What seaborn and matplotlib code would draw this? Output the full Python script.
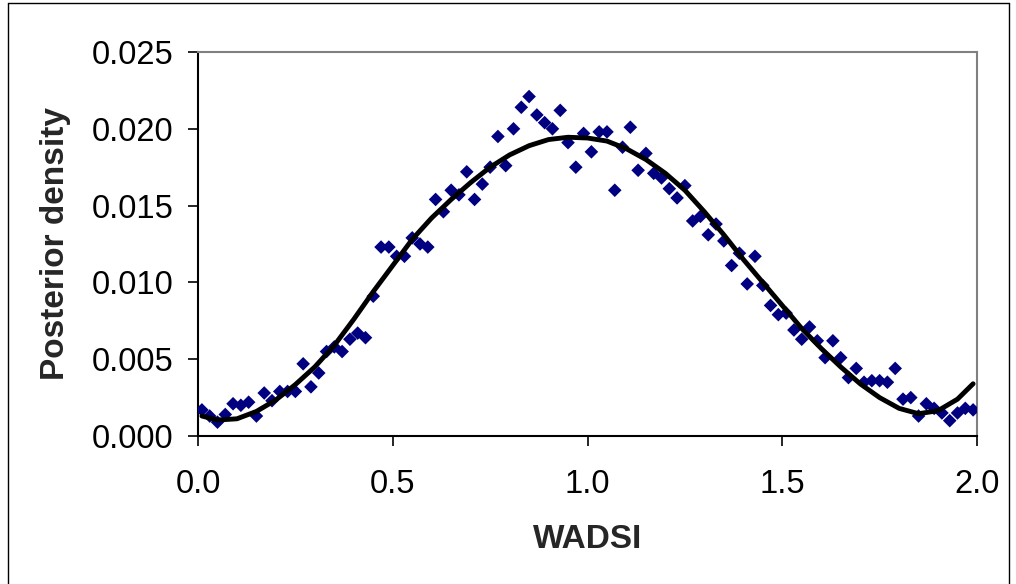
import numpy as np
import pandas as pd
import matplotlib
matplotlib.use("Agg")
import matplotlib.pyplot as plt
from matplotlib.lines import Line2D
import seaborn as sns

# WADSI values (x) and posterior density (y) of the points
wadsi = [0.01, 0.03, 0.05, 0.07, 0.09, 0.11, 0.13, 0.15, 0.17, 0.19,
         0.21, 0.23, 0.25, 0.27, 0.29, 0.31, 0.33, 0.35, 0.37, 0.39,
         0.41, 0.43, 0.45, 0.47, 0.49, 0.51, 0.53, 0.55, 0.57, 0.59,
         0.61, 0.63, 0.65, 0.67, 0.69, 0.71, 0.73, 0.75, 0.77, 0.79,
         0.81, 0.83, 0.85, 0.87, 0.89, 0.91, 0.93, 0.95, 0.97, 0.99,
         1.01, 1.03, 1.05, 1.07, 1.09, 1.11, 1.13, 1.15, 1.17, 1.19,
         1.21, 1.23, 1.25, 1.27, 1.29, 1.31, 1.33, 1.35, 1.37, 1.39,
         1.41, 1.43, 1.45, 1.47, 1.49, 1.51, 1.53, 1.55, 1.57, 1.59,
         1.61, 1.63, 1.65, 1.67, 1.69, 1.71, 1.73, 1.75, 1.77, 1.79,
         1.81, 1.83, 1.85, 1.87, 1.89, 1.91, 1.93, 1.95, 1.97, 1.99]
density = [0.0017, 0.0013, 0.0009, 0.0014, 0.0021, 0.0020, 0.0022, 0.0013, 0.0028, 0.0023,
           0.0029, 0.0029, 0.0029, 0.0047, 0.0032, 0.0041, 0.0055, 0.0058, 0.0055, 0.0063,
           0.0067, 0.0064, 0.0091, 0.0123, 0.0123, 0.0117, 0.0117, 0.0129, 0.0125, 0.0123,
           0.0154, 0.0146, 0.0160, 0.0157, 0.0172, 0.0154, 0.0164, 0.0175, 0.0195, 0.0176,
           0.0200, 0.0214, 0.0221, 0.0209, 0.0204, 0.0200, 0.0212, 0.0191, 0.0175, 0.0197,
           0.0185, 0.0198, 0.0198, 0.0160, 0.0188, 0.0201, 0.0173, 0.0184, 0.0171, 0.0168,
           0.0161, 0.0155, 0.0163, 0.0140, 0.0143, 0.0131, 0.0138, 0.0127, 0.0111, 0.0119,
           0.0099, 0.0117, 0.0098, 0.0085, 0.0079, 0.0080, 0.0069, 0.0063, 0.0071, 0.0062,
           0.0051, 0.0062, 0.0051, 0.0038, 0.0044, 0.0035, 0.0036, 0.0036, 0.0035, 0.0044,
           0.0024, 0.0025, 0.0013, 0.0021, 0.0018, 0.0015, 0.0010, 0.0015, 0.0018, 0.0017]

# smooth fitted curve
curve_x = [0.01, 0.05, 0.10, 0.15, 0.20, 0.25, 0.30, 0.35, 0.40, 0.45,
           0.50, 0.55, 0.60, 0.65, 0.70, 0.75, 0.80, 0.85, 0.90, 0.95,
           1.00, 1.05, 1.10, 1.15, 1.20, 1.25, 1.30, 1.35, 1.40, 1.45,
           1.50, 1.55, 1.60, 1.65, 1.70, 1.75, 1.80, 1.85, 1.90, 1.95, 1.99]
curve_y = [0.00130, 0.00104, 0.00112, 0.00160, 0.00235, 0.00335, 0.00450, 0.00590, 0.00760, 0.00940,
           0.01110, 0.01280, 0.01420, 0.01540, 0.01650, 0.01750, 0.01830, 0.01890, 0.01930, 0.01945,
           0.01940, 0.01920, 0.01870, 0.01800, 0.01710, 0.01600, 0.01460, 0.01310, 0.01150, 0.01000,
           0.00850, 0.00700, 0.00570, 0.00450, 0.00340, 0.00250, 0.00180, 0.00145, 0.00165, 0.00240, 0.00340]

x_ticks = [0.0, 0.5, 1.0, 1.5, 2.0]
x_ticklabels = ["0.0", "0.5", "1.0", "1.5", "2.0"]
y_ticks = [0.0, 0.005, 0.010, 0.015, 0.020, 0.025]
y_ticklabels = ["0.000", "0.005", "0.010", "0.015", "0.020", "0.025"]
x_label = "WADSI"
y_label = "Posterior density"

df = pd.DataFrame({"WADSI": wadsi, "density": density})
curve = pd.DataFrame({"WADSI": curve_x, "density": curve_y})

sns.set_style("white")
plt.rcParams["font.family"] = ["Liberation Sans", "DejaVu Sans"]

W, H = 1016, 584
fig = plt.figure(figsize=(W / 100, H / 100), dpi=100)
ax = fig.add_axes([198 / W, 1 - 436 / H, (977 - 198) / W, (436 - 52) / H])

sns.scatterplot(data=df, x="WADSI", y="density", marker="D", s=48,
                color="#000080", edgecolor="none", linewidth=0, ax=ax, zorder=3)
sns.lineplot(data=curve, x="WADSI", y="density", color="black", linewidth=3.5,
             ax=ax, zorder=4, estimator=None)
for ln in ax.get_lines():
    ln.set_solid_joinstyle("round")
    ln.set_solid_capstyle("round")

ax.set_xlim(0, 2.0)
ax.set_ylim(0, 0.025)
ax.set_xticks(x_ticks)
ax.set_xticklabels(x_ticklabels)
ax.set_yticks(y_ticks)
ax.set_yticklabels(y_ticklabels)
ax.tick_params(axis="both", which="major", direction="out", length=7.5, width=1.2,
               color="black", labelsize=23.5, labelcolor="black", bottom=True, left=True)
ax.tick_params(axis="x", pad=16)
ax.tick_params(axis="y", pad=10)

ax.set_xlabel(x_label, fontsize=24, fontweight="bold")
ax.set_ylabel(y_label, fontsize=24, fontweight="bold")
ax.xaxis.set_label_coords(0.5, -0.23)
ax.yaxis.set_label_coords(-0.163, 0.5)

for side in ["left", "bottom"]:
    ax.spines[side].set_color("black")
    ax.spines[side].set_linewidth(1.5)
for side in ["top", "right"]:
    ax.spines[side].set_color("#808080")
    ax.spines[side].set_linewidth(1.5)
ax.grid(False)

# outer chart border
for (x0, y0, x1, y1) in [(8, 3, 1009, 3), (8, 3, 8, 584), (1009, 3, 1009, 584)]:
    fig.add_artist(Line2D([x0 / W, x1 / W], [1 - y0 / H, 1 - y1 / H],
                          transform=fig.transFigure, color="black", linewidth=1.0))

fig.savefig("out.png", dpi=100, facecolor="white")
